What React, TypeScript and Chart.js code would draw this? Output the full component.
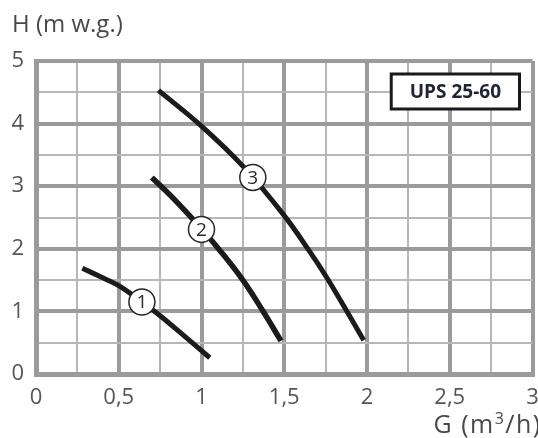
import React, { useEffect, useRef } from 'react';
import { Chart, registerables } from 'chart.js';

Chart.register(...registerables);

// Pump curves (G in m³/h, H in m w.g.)
const curve1G = [0.28, 0.4, 0.5, 0.64, 0.75, 0.89, 1.05];
const curve1H = [1.69, 1.54, 1.41, 1.15, 0.93, 0.62, 0.26];
const curve2G = [0.7, 0.85, 1.0, 1.1, 1.25, 1.37, 1.48];
const curve2H = [3.14, 2.75, 2.32, 2.01, 1.5, 1.01, 0.53];
const curve3G = [0.74, 1.0, 1.25, 1.5, 1.65, 1.75, 1.85, 1.98];
const curve3H = [4.53, 3.96, 3.32, 2.53, 1.97, 1.57, 1.13, 0.54];

// Speed markers on the curves
const labelText = ['1', '2', '3'];
const labelG = [0.64, 1.0, 1.31];
const labelH = [1.15, 2.31, 3.14];

// Axis texts
const xTickLabels = ['0', '0,5', '1', '1,5', '2', '2,5', '3'];
const yTickLabels = ['0', '1', '2', '3', '4', '5'];
const yTitle = 'H (m w.g.)';
const xTitleParts = ['G (m', '3', '/h)'];
const modelName = 'UPS 25-60';

const FONT = '"Open Sans", "DejaVu Sans", sans-serif';
const MAJOR = '#9b9b9b';
const MINOR = '#b7b7b7';
const CURVE = '#1b1b1b';
const TEXT = '#484848';

const toPoints = (xs: number[], ys: number[]) => xs.map((x, i) => ({ x, y: ys[i] }));

const overlayPlugin = {
  id: 'overlay',
  afterDatasetsDraw(chart: any) {
    const ctx = chart.ctx as CanvasRenderingContext2D;
    const meta = chart.getDatasetMeta(0);
    const area = chart.chartArea;
    ctx.save();

    // marker numbers
    ctx.font = `19px ${FONT}`;
    ctx.fillStyle = '#2a2a2a';
    ctx.textAlign = 'center';
    ctx.textBaseline = 'middle';
    meta.data.forEach((el: any, i: number) => {
      ctx.fillText(labelText[i], el.x, el.y + 1);
    });

    // model name box
    ctx.font = `bold 19px ${FONT}`;
    const tw = ctx.measureText(modelName).width;
    const w = tw + 37;
    const h = 35;
    const right = area.right - 13;
    const top = area.top + 13;
    ctx.fillStyle = '#ffffff';
    ctx.fillRect(right - w, top, w, h);
    ctx.lineWidth = 3;
    ctx.strokeStyle = '#1a1a1a';
    ctx.strokeRect(right - w, top, w, h);
    ctx.fillStyle = '#1f2535';
    ctx.fillText(modelName, right - w / 2, top + h / 2 + 1);

    // x axis title with superscript
    ctx.fillStyle = TEXT;
    ctx.textAlign = 'left';
    ctx.textBaseline = 'alphabetic';
    (ctx as any).letterSpacing = '1.5px';
    const base = area.bottom + 59;
    let x = area.right - 99;
    ctx.font = `25px ${FONT}`;
    ctx.fillText(xTitleParts[0], x, base);
    x += ctx.measureText(xTitleParts[0]).width;
    ctx.font = `16px ${FONT}`;
    ctx.fillText(xTitleParts[1], x, base - 9);
    x += ctx.measureText(xTitleParts[1]).width;
    ctx.font = `25px ${FONT}`;
    ctx.fillText(xTitleParts[2], x, base);
    ctx.restore();
  },
};

export default function App() {
  const ref = useRef<HTMLCanvasElement>(null);

  useEffect(() => {
    if (!ref.current) return;
    const curveStyle = {
      showLine: true,
      pointRadius: 0,
      pointHoverRadius: 0,
      borderColor: CURVE,
      backgroundColor: CURVE,
      borderWidth: 5,
      tension: 0.4,
      order: 1,
    };
    const chart = new Chart(ref.current, {
      type: 'scatter',
      data: {
        datasets: [
          {
            label: 'markers',
            data: toPoints(labelG, labelH),
            pointRadius: 13,
            pointHoverRadius: 13,
            pointBackgroundColor: '#ffffff',
            pointBorderColor: '#262626',
            pointBorderWidth: 1.5,
            showLine: false,
            order: 0,
          },
          { label: '1', data: toPoints(curve1G, curve1H), ...curveStyle },
          { label: '2', data: toPoints(curve2G, curve2H), ...curveStyle, borderWidth: 5.5 },
          { label: '3', data: toPoints(curve3G, curve3H), ...curveStyle },
        ],
      },
      options: {
        animation: false,
        responsive: true,
        maintainAspectRatio: false,
        events: [],
        layout: { padding: { left: 12, top: 0, right: 0, bottom: 0 } },
        plugins: {
          legend: { display: false },
          tooltip: { enabled: false },
          title: {
            display: true,
            text: yTitle,
            align: 'start',
            color: TEXT,
            font: { family: FONT, size: 24, weight: 'normal' },
            padding: { top: 11, bottom: 21.2 },
          },
        },
        scales: {
          x: {
            type: 'linear',
            min: 0,
            max: 3,
            afterFit: (axis: any) => {
              axis.height = 64;
            },
            ticks: {
              stepSize: 0.25,
              autoSkip: false,
              maxRotation: 0,
              padding: 2,
              color: '#555555',
              font: { family: FONT, size: 22 },
              callback: (_v: any, i: number) => (i % 2 === 0 ? xTickLabels[i / 2] : ''),
            },
            grid: {
              drawTicks: true,
              tickLength: 9,
              tickColor: 'rgba(0,0,0,0)',
              color: (c: any) => (c.index % 2 === 0 ? MAJOR : MINOR),
              lineWidth: (c: any) => (c.index % 2 === 0 ? 4 : 2),
            },
            border: { display: true, color: MAJOR, width: 5 },
          },
          y: {
            type: 'linear',
            min: 0,
            max: 5,
            afterFit: (axis: any) => {
              axis.width = 24;
            },
            ticks: {
              stepSize: 0.5,
              autoSkip: false,
              padding: 12,
              color: '#555555',
              font: { family: FONT, size: 22 },
              callback: (_v: any, i: number) => (i % 2 === 0 ? yTickLabels[i / 2] : ''),
            },
            grid: {
              drawTicks: false,
              color: (c: any) => (c.index % 2 === 0 ? MAJOR : MINOR),
              lineWidth: (c: any) => (c.index % 2 === 0 ? 4 : 2),
            },
            border: { display: true, color: MAJOR, width: 5 },
          },
        },
      },
      plugins: [overlayPlugin],
    });
    return () => chart.destroy();
  }, []);

  return (
    <div style={{ position: 'fixed', left: 0, top: 0, width: 547, height: 438, background: '#ffffff' }}>
      <canvas ref={ref} />
    </div>
  );
}
